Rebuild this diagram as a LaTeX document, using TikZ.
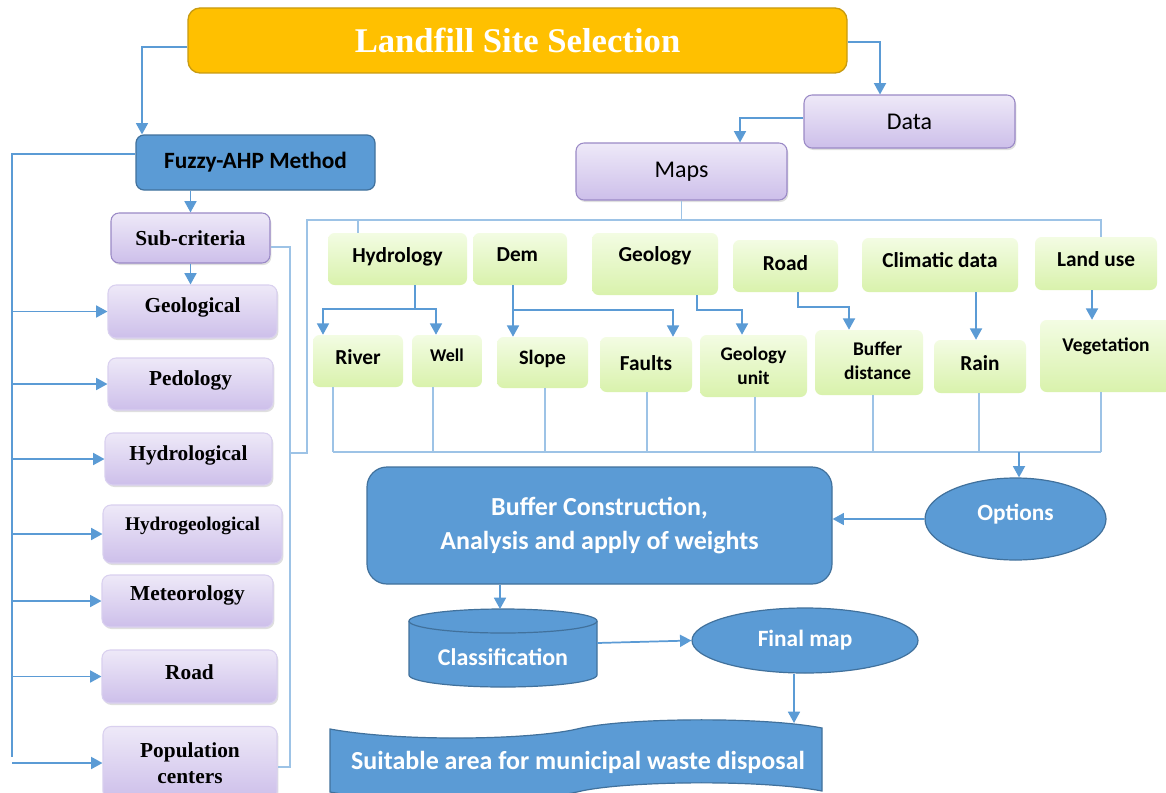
\documentclass[tikz,border=0pt]{standalone}
\usepackage{fontspec}
\newfontfamily\calfont{Carlito}
\newfontfamily\tmsfont{Liberation Serif}
\usetikzlibrary{arrows.meta,shapes.geometric,shadows}
\definecolor{bblue}{HTML}{5B9BD5}
\definecolor{bdark}{HTML}{41719C}
\definecolor{thinc}{HTML}{9DC3E6}
\definecolor{gold}{HTML}{FFC000}
\definecolor{golddk}{HTML}{C89B10}
\definecolor{ptop}{HTML}{EEE9F8}
\definecolor{pbot}{HTML}{CDBFEA}
\definecolor{pdraw}{HTML}{9A89C6}
\definecolor{psoft}{HTML}{D9D0EF}
\definecolor{gtop}{HTML}{F3FCE3}
\definecolor{gbot}{HTML}{D9F2AC}
\newcommand\up[2]{\raisebox{#1}[\height][\depth]{#2}}
\tikzset{
  px/.style 2 args={minimum width=#1*0.75pt, minimum height=#2*0.75pt},
  base/.style={inner sep=0pt, align=center},
  purp/.style={base, rounded corners=6pt, top color=ptop, bottom color=pbot, draw=pdraw, line width=0.8pt,
     drop shadow={opacity=0.25, shadow xshift=1pt, shadow yshift=-1.5pt}},
  crit/.style={purp, draw=psoft, font=\tmsfont\bfseries\fontsize{16}{19.5}\selectfont},
  grn/.style={base, rounded corners=5pt, top color=gtop, bottom color=gbot, draw=none,
     font=\calfont\bfseries\fontsize{16}{19}\selectfont},
  blu/.style={base, fill=bblue, draw=bdark, line width=0.9pt, text=white,
     font=\calfont\bfseries\fontsize{17.5}{25}\selectfont},
  conn/.style={draw=bblue, line width=1.3pt},
  arr/.style={conn, -{Triangle[length=8.5pt,width=9pt]}},
  thinl/.style={draw=thinc, line width=0.8pt}
}
\begin{document}
\begin{tikzpicture}[x=0.75pt,y=-0.75pt]
\useasboundingbox (0,0) rectangle (1166,792);
\fill[white] (0,0) rectangle (1166,792);

% top
\node[base, rounded corners=9pt, fill=gold, draw=golddk, line width=1pt, px={659}{65}, text=white,
  font=\tmsfont\bfseries\fontsize{26}{30}\selectfont] (title) at (517.5,40.5) {Landfill Site Selection};
\node[purp, px={211}{53}, font=\calfont\fontsize{18}{22}\selectfont] (data) at (909.5,121.5) {Data};
\node[purp, px={211}{57}, font=\calfont\fontsize{18}{22}\selectfont] (maps) at (681.5,171.5) {Maps};
\node[blu, px={239}{55}, rounded corners=6pt, text=black, font=\calfont\bfseries\fontsize{17.5}{20}\selectfont] (fuzzy) at (255.5,162.5) {Fuzzy-AHP Method};

% left column
\node[purp, px={159}{50}, font=\tmsfont\bfseries\fontsize{16}{19}\selectfont] (sub) at (190.5,238) {Sub-criteria};
\node[crit, px={169}{53}] (geol) at (192.5,311.5) {\up{3pt}{Geological}};
\node[crit, px={165}{52}] (ped) at (190.5,384) {\up{3pt}{Pedology}};
\node[crit, px={167}{52}] (hydl) at (188.5,459) {\up{3pt}{Hydrological}};
\node[crit, px={179}{58}, font=\tmsfont\bfseries\fontsize{14.5}{18}\selectfont] (hydg) at (192.5,534) {\up{6pt}{Hydrogeological}};
\node[crit, px={171}{52}] (meteo) at (187.5,601) {\up{4.5pt}{Meteorology}};
\node[crit, px={175}{53}] (road) at (189.5,676.5) {\up{3pt}{Road}};
\node[crit, px={174}{73}] (pop) at (190,763) {Population\\centers};

% green row 1
\node[grn, px={139}{52}] (hydro) at (397.5,259) {\up{2pt}{Hydrology}};
\node[grn, px={94}{52}] (dem) at (520,259) {\up{3pt}{\hspace*{-2pt}Dem\hspace*{2pt}}};
\node[grn, px={126}{62}] (geo) at (655,264) {\up{6pt}{Geology}};
\node[grn, px={105}{52}] (road1) at (785.5,266) {\up{2pt}{Road}};
\node[grn, px={156}{54}] (clim) at (940,265) {\up{4pt}{Climatic data}};
\node[grn, px={122}{53}] (land) at (1096,263.5) {\up{3pt}{Land use}};

% green row 2
\node[grn, px={90}{52}] (river) at (358,361) {\up{3pt}{River}};
\node[grn, px={70}{52}, font=\calfont\bfseries\fontsize{13.5}{16}\selectfont] (well) at (447,361) {\up{4pt}{Well}};
\node[grn, px={91}{51}, font=\calfont\bfseries\fontsize{15.3}{18}\selectfont] (slope) at (542.5,362.5) {\up{3pt}{Slope}};
\node[grn, px={92}{55}] (faults) at (646,364.5) {\up{1pt}{Faults}};
\node[grn, px={107}{62}, font=\calfont\bfseries\fontsize{14.5}{18}\selectfont] (gunit) at (753.5,366) {Geology\\unit};
\node[grn, px={108}{65}, font=\calfont\bfseries\fontsize{14.5}{18}\selectfont] (buf) at (869,362.5)
  {\hspace*{6.5pt}\begin{tabular}{@{}c@{}}Buffer\\distance\end{tabular}\hspace*{-6.5pt}};
\node[grn, px={92}{53}] (rain) at (980,366.5) {\up{2.5pt}{Rain}};
\node[grn, px={132}{72}, font=\calfont\bfseries\fontsize{14.6}{18}\selectfont] (veg) at (1106,356) {\up{7pt}{Vegetation}};

% bottom blue
\node[blu, rounded corners=15pt, px={465}{117}, font=\calfont\bfseries\fontsize{19.5}{25}\selectfont] (bufc) at (599.5,525.5) {Buffer Construction,\\Analysis and apply of weights};
\node[blu, ellipse, px={181}{82}] (opt) at (1015.5,519) {\up{4pt}{Options}};
\node[blu, ellipse, px={226}{65}] (fmap) at (805,640.5) {Final map};

% cylinder
\path[fill=bblue, draw=bdark, line width=0.9pt] (409,621) -- (409,675)
  arc[start angle=180, end angle=360, x radius=70.5pt, y radius=9pt] -- (597,621)
  arc[start angle=0, end angle=180, x radius=70.5pt, y radius=9pt] -- cycle;
\draw[bdark, line width=0.9pt] (409,621) arc[start angle=180, end angle=360, x radius=70.5pt, y radius=9pt];
\node[base, px={188}{78}, text=white, font=\calfont\bfseries\fontsize{18}{22}\selectfont] (cyl) at (503,648) {\up{-7pt}{Classification}};

% banner
\path[fill=bblue, draw=bdark, line width=0.9pt] (330,729) .. controls (400,742) and (530,740) .. (577,729)
  .. controls (620,718) and (760,716) .. (822,728) -- (822,791)
  .. controls (760,779) and (620,781) .. (577,792) .. controls (530,803) and (400,805) .. (330,792) -- cycle;
\node[base, px={492}{66}, text=white, font=\calfont\bfseries\fontsize{19.5}{22}\selectfont] (suit) at (578,758) {\up{-3pt}{Suitable area for municipal waste disposal}};

% coordinates
\coordinate (trunk) at (12,757);
\coordinate (bk1) at (290,247);
\coordinate (bk2) at (290,767);
\coordinate (bkm) at (290,453);
\coordinate (tl) at (307,453);
\coordinate (tl2) at (307,220);
\coordinate (tr) at (1101,220);
\coordinate (bl) at (333,452);
\coordinate (br) at (1101,452);
\coordinate (hs) at (415,309);
\coordinate (ds) at (513,310);
\coordinate (gs) at (697,310);
\coordinate (rs) at (798,307);

% top connectors
\draw[arr] (title.west |- 0,47) -| (fuzzy.north -| 142,0);
\draw[arr] (title.east |- 0,42) -| (data.north -| 880,0);
\draw[arr] (data.west |- 0,118) -| (maps.north -| 740,0);

% left trunk
\draw[conn] (fuzzy.west |- 0,154) -| (trunk);
\foreach \n in {geol,ped,hydl,hydg,meteo,road,pop}
  \draw[arr] (trunk |- \n.west) -- (\n.west);
\draw[arr] (sub.north |- fuzzy.south) -- (sub.north);
\draw[arr] (sub.south) -- (sub.south |- geol.north);

% thin brackets
\draw[thinl] (sub.east |- bk1) -- (bk1) -- (bk2) -- (pop.east |- bk2);
\draw[thinl] (bkm) -- (tl) -- (tl2) -- (tr) -- (tr |- land.north);
\draw[thinl] (maps.south) -- (maps.south |- tl2);
\draw[thinl] (hydro.north -| 358,0) -- (358,220);

% row1 -> row2
\draw[conn] (hydro.south -| hs) -- (hs);
\draw[arr] (hs) -| (river.north -| 323,0);
\draw[arr] (hs) -| (well.north -| 436,0);
\draw[arr] (dem.south -| ds) -- (slope.north -| ds);
\draw[arr] (ds) -| (faults.north -| 673,0);
\draw[arr] (geo.south -| gs) -- (gs) -| (gunit.north -| 742,0);
\draw[arr] (road1.south -| rs) -- (rs) -| (buf.north -| 849,0);
\draw[arr] (clim.south -| 976,0) -- (rain.north -| 976,0);
\draw[arr] (land.south -| 1092,0) -- (veg.north -| 1092,0);

% bottom collector
\draw[thinl] (river.south -| 333,0) -- (333,452);
\draw[thinl] (well.south -| 433,0) -- (433,452);
\draw[thinl] (slope.south -| 545,0) -- (545,452);
\draw[thinl] (faults.south -| 647,0) -- (647,452);
\draw[thinl] (gunit.south -| 755,0) -- (755,452);
\draw[thinl] (buf.south -| 873,0) -- (873,452);
\draw[thinl] (rain.south -| 979,0) -- (979,452);
\draw[thinl] (veg.south -| 1101,0) -- (1101,452);
\draw[thinl] (bl) -- (br);

% bottom flow
\draw[arr] (1019,452) -- (opt.north -| 1019,0);
\draw[arr] (opt.west) -- (bufc.east |- opt.west);
\draw[arr] (bufc.south -| 500,0) -- (500,609);
\draw[arr] (597,643) -- (fmap.west);
\draw[arr] (fmap.south -| 794,0) -- (794,723);
\end{tikzpicture}
\end{document}
